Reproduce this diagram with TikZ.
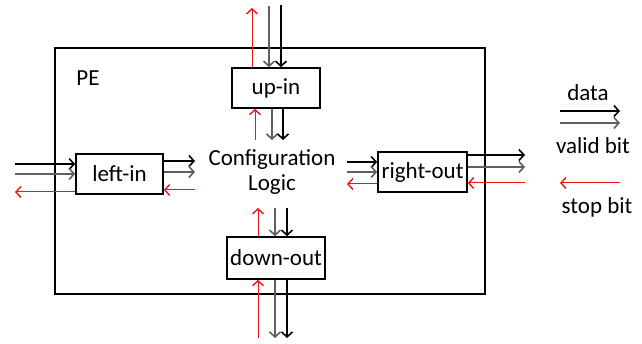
\documentclass[tikz,border=0pt]{standalone}
\usepackage{fontspec}
\setmainfont{Carlito}
\usetikzlibrary{arrows.meta}
\definecolor{SinDado}{RGB}{0,0,0}
\definecolor{SinValido}{RGB}{95,95,95}
\definecolor{SinParada}{RGB}{240,20,20}
\begin{document}
\begin{tikzpicture}[x=1pt,y=-1pt,every node/.style={font=\fontsize{23}{25}\selectfont},
caixa/.style={draw,line width=1.6pt,inner sep=0pt},
dado/.style={SinDado,line width=1.8pt,-{Straight Barb[length=5pt,width=11pt,line width=1.6pt]}},
valido/.style={SinValido,line width=1.1pt,-{Straight Barb[length=5pt,width=11pt,line width=1.6pt]}},
parada/.style={SinParada,line width=1pt,-{Straight Barb[length=5pt,width=11pt,line width=1.4pt]}}]
\useasboundingbox (0,0) rectangle (642,344);
\node[caixa,line width=2pt,minimum width=430pt,minimum height=246pt](pe)at(270,171){};
\node(rotpe)at(88,78){PE};
\node[caixa,minimum width=88pt,minimum height=40pt](upin)at(276,88){up-in};
\node[caixa,minimum width=87pt,minimum height=40pt](leftin)at(119.5,174){left-in};
\node[caixa,minimum width=89pt,minimum height=40pt](rightout)at(422.5,172){right-out};
\node[caixa,minimum width=98pt,minimum height=42pt](downout)at(276,258){down-out};
\node[align=center](logica)at(272,172){Configuration\\Logic};
\coordinate(ur)at(252,8);\coordinate(uv)at(269,6);\coordinate(ud)at(281,5);
\draw[parada](ur|-upin.north)--(ur);\draw[valido](uv)--(uv|-upin.north);\draw[dado](ud)--(ud|-upin.north);
\coordinate(cr)at(255,140);\coordinate(cv)at(272,140);\coordinate(cd)at(283,140);
\draw[parada](cr)--(cr|-upin.south);\draw[valido](cv|-upin.south)--(cv);\draw[dado](cd|-upin.south)--(cd);
\coordinate(lr)at(258,208);\coordinate(lv)at(275,208);\coordinate(ld)at(287,208);
\draw[parada](lr|-downout.north)--(lr);\draw[valido](lv)--(lv|-downout.north);\draw[dado](ld)--(ld|-downout.north);
\coordinate(br)at(258,338);\coordinate(bv)at(275,338);\coordinate(bd)at(287,338);
\draw[parada](br)--(br|-downout.south);\draw[valido](bv|-downout.south)--(bv);\draw[dado](bd|-downout.south)--(bd);
\coordinate(ed)at(15,164);\coordinate(ev)at(15,174);\coordinate(er)at(15,192);
\draw[dado](ed)--(ed-|leftin.west);\draw[valido](ev)--(ev-|leftin.west);\draw[parada](er-|leftin.west)--(er);
\coordinate(md)at(195,161);\coordinate(mv)at(195,172);\coordinate(mr)at(195,190);
\draw[dado](md-|leftin.east)--(md);\draw[valido](mv-|leftin.east)--(mv);\draw[parada](mr)--(mr-|leftin.east);
\coordinate(nd)at(347,162);\coordinate(nv)at(347,172);\coordinate(nr)at(347,184);
\draw[dado](nd)--(nd-|rightout.west);\draw[valido](nv)--(nv-|rightout.west);\draw[parada](nr-|rightout.west)--(nr);
\coordinate(sd)at(525,155);\coordinate(sv)at(525,167);\coordinate(sr)at(525,183);
\draw[dado](sd-|rightout.east)--(sd);\draw[valido](sv-|rightout.east)--(sv);\draw[parada](sr)--(sr-|rightout.east);
\coordinate(ldi)at(560,111);\coordinate(ldf)at(620,111);\draw[dado](ldi)--(ldf);
\coordinate(lvi)at(560,123);\coordinate(lvf)at(620,123);\draw[valido](lvi)--(lvf);
\coordinate(lri)at(620,183);\coordinate(lrf)at(560,183);\draw[parada](lri)--(lrf);
\node(rotdado)at(588,93){data};\node(rotvalido)at(593,146){valid bit};\node(rotparada)at(597,207){stop bit};
\end{tikzpicture}
\end{document}
